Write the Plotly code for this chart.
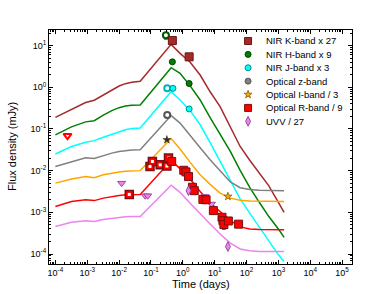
import plotly.graph_objects as go

# ---------------- model curves ----------------
model_t = [1.0e-4, 3.2e-4, 8.9e-4, 1.66e-3, 3.2e-3, 5.9e-3, 1.0e-2, 1.58e-2, 2.5e-2, 4.6e-2,
           0.43, 0.82, 1.7, 3.5, 7.2, 14.8, 31, 63, 126, 251, 501, 1000, 1510]

model_K = [0.19, 0.30, 0.43, 0.49, 0.65, 0.86, 1.07, 1.22, 1.32, 1.40,
           10.7, 6.5, 4.0, 1.97, 0.78, 0.343, 0.113, 0.038, 0.0178, 0.0089, 0.0043, 0.00174, 0.0010]
model_H = [0.072, 0.112, 0.148, 0.158, 0.214, 0.275, 0.324, 0.355, 0.372, 0.376,
           2.95, 2.17, 1.08, 0.495, 0.188, 0.0724, 0.0288, 0.0102, 0.00398, 0.00174, 0.00079, 0.000398, 0.000251]
model_J = [0.0251, 0.038, 0.0479, 0.0525, 0.0631, 0.0741, 0.0871, 0.0955, 0.102, 0.105,
           0.785, 0.495, 0.275, 0.126, 0.0468, 0.0166, 0.00575, 0.00209, 0.000955, 0.000437, 0.0002, 0.0000955, 0.0000661]
model_z = [0.0126, 0.0166, 0.0204, 0.0195, 0.0229, 0.0263, 0.0288, 0.0302, 0.0313, 0.0316,
           0.209, 0.138, 0.0676, 0.0355, 0.0182, 0.0100, 0.00537, 0.00389, 0.00351, 0.00339, 0.00335, 0.00331, 0.00331]
model_I = [0.00501, 0.00631, 0.00724, 0.00676, 0.00794, 0.00871, 0.00933, 0.00966, 0.00989, 0.0100,
           0.0589, 0.0331, 0.0158, 0.00794, 0.00468, 0.00288, 0.00219, 0.00195, 0.00186, 0.00184, 0.00182, 0.00182, 0.00182]
model_R = [0.00138, 0.00182, 0.00200, 0.00191, 0.00219, 0.00240, 0.00254, 0.00263, 0.00266, 0.00269,
           0.0174, 0.0112, 0.00631, 0.00316, 0.0017, 0.00105, 0.00063, 0.000447, 0.000398, 0.000385, 0.00038, 0.00038, 0.00038]
model_UVV = [0.000457, 0.000575, 0.000631, 0.000603, 0.000676, 0.000724, 0.000759, 0.000785, 0.000794, 0.000794,
             0.00447, 0.00302, 0.00166, 0.000912, 0.000525, 0.000302, 0.000182, 0.000132, 0.000119, 0.000115, 0.000115, 0.000115, 0.000115]

K_t = [0.47, 1.58]
K_f = [13.2, 5.37]

H_t = [0.47, 1.58]
H_f = [4.07, 1.23]
H_ring_t = [0.295]
H_ring_f = [17.8]

J_t = [0.49, 1.58]
J_f = [0.944, 0.302]
J_ring_t = [0.324]
J_ring_f = [0.944]

z_ring_t = [0.324]
z_ring_f = [0.216]

I_dark_t = [0.316]
I_dark_f = [0.055]
I_t = [26.0]
I_f = [0.0024]

R_t = [0.447, 1.07, 1.26, 1.51, 2.0, 2.29, 4.27, 5.37, 9.1, 17.0, 18.2, 19.5, 26.9, 56.2]
R_f = [0.0166, 0.0102, 0.0093, 0.0072, 0.0040, 0.0033, 0.00204, 0.0020, 0.0011, 0.00076,
       0.00063, 0.00051, 0.00062, 0.00052]
R_early_t = [0.0209, 0.0933, 0.111, 0.195, 0.316, 0.355]
R_early_f = [0.00269, 0.0126, 0.0166, 0.0138, 0.0129, 0.020]
R_lim_t = [0.00024]
R_lim_f = [0.069]

UVV_t = [1.51, 26.0]
UVV_f = [0.0033, 0.000151]
UVV_lim_t = [0.012, 0.066, 0.079, 5.0, 7.9]
UVV_lim_f = [0.0050, 0.0025, 0.0025, 0.0024, 0.00158]

labels = ["NIR K-band x 27", "NIR H-band x 9", "NIR J-band x 3", "Optical z-band",
          "Optical I-band / 3", "Optical R-band / 9", "UVV / 27"]

x_exps = [-4, -3, -2, -1, 0, 1, 2, 3, 4, 5]
y_exps = [-4, -3, -2, -1, 0, 1]

FONT = "Arial, Liberation Sans, sans-serif"
C_K, C_H, C_J, C_z, C_I, C_R, C_U = "#A52A2A", "#008000", "#00FFFF", "#808080", "#FFA500", "#FF0000", "#EE82EE"

fig = go.Figure()

# model lines
for ys, c in [(model_K, C_K), (model_H, C_H), (model_J, C_J), (model_z, C_z),
              (model_I, C_I), (model_R, C_R), (model_UVV, C_U)]:
    fig.add_trace(go.Scatter(x=model_t, y=ys, mode="lines", line=dict(color=c, width=1.5),
                             showlegend=False, hoverinfo="skip"))

def pts(x, y, **kw):
    fig.add_trace(go.Scatter(x=x, y=y, mode="markers", showlegend=False, **kw))

# upper limits
pts(R_lim_t, R_lim_f, marker=dict(symbol="triangle-down", size=7, color="white",
                                  line=dict(color=C_R, width=2)))
pts(UVV_lim_t, UVV_lim_f, marker=dict(symbol="triangle-down", size=7, color=C_U,
                                      line=dict(color="#9a4a9a", width=1)))

# rings
pts(H_ring_t, H_ring_f, marker=dict(symbol="circle", size=6, color="white", line=dict(color="#005a00", width=2)),
    error_y=dict(type="data", array=[0], arrayminus=[3.5], color="#005a00", width=2, thickness=1))
pts(J_ring_t, J_ring_f, marker=dict(symbol="circle", size=6, color="white", line=dict(color="#00b5b5", width=2)))
pts(z_ring_t, z_ring_f, marker=dict(symbol="circle", size=6, color="white", line=dict(color="#555555", width=2)))
pts(I_dark_t, I_dark_f, marker=dict(symbol="star", size=6, color="#3a2a10", line=dict(color="#3a2a10", width=0.5)))

# R early squares with white centres
pts(R_early_t, R_early_f, marker=dict(symbol="square", size=8, color=C_R, line=dict(color="#7a1010", width=1.5)))
pts(R_early_t, R_early_f, marker=dict(symbol="square", size=3, color="white", line=dict(width=0)))

# detections
pts(K_t, K_f, marker=dict(symbol="square", size=8, color=C_K, line=dict(color="#6a1515", width=1)))
pts(H_t, H_f, marker=dict(symbol="circle", size=6, color=C_H, line=dict(color="#004000", width=1)))
pts(J_t, J_f, marker=dict(symbol="circle", size=6, color=C_J, line=dict(color="#008b8b", width=1)))
pts(I_t, I_f, marker=dict(symbol="star", size=6, color=C_I, line=dict(color="#8a5a00", width=0.8)))
pts(R_t, R_f, marker=dict(symbol="square", size=8, color=C_R, line=dict(color="#7a1010", width=1)),
    error_y=dict(type="data", array=[0] * 11 + [0.00008] + [0, 0], arrayminus=[0] * 11 + [0.00012] + [0, 0],
                 color=C_R, width=2, thickness=1))
pts(UVV_t, UVV_f, marker=dict(symbol="diamond-tall", size=7, color=C_U, line=dict(color="#9a4a9a", width=1)))

# ---------------- hand-made legend (overlay axes in plot-fraction units) ----------------
leg_markers = [
    dict(symbol="square", size=7, color=C_K, line=dict(color="#6a1515", width=1)),
    dict(symbol="circle", size=6, color=C_H, line=dict(color="#004000", width=1)),
    dict(symbol="circle", size=6, color=C_J, line=dict(color="#008b8b", width=1)),
    dict(symbol="circle", size=6, color=C_z, line=dict(color="#555555", width=1)),
    dict(symbol="star", size=6, color=C_I, line=dict(color="#8a5a00", width=0.8)),
    dict(symbol="square", size=7, color=C_R, line=dict(color="#7a1010", width=1)),
    dict(symbol="diamond-tall", size=7, color=C_U, line=dict(color="#9a4a9a", width=1)),
]
leg_x_marker = 0.657
leg_x_text = 0.71
leg_y0 = 0.953
leg_dy = 0.0572
for i, (lab, mk) in enumerate(zip(labels, leg_markers)):
    yy = leg_y0 - i * leg_dy
    fig.add_trace(go.Scatter(x=[leg_x_marker], y=[yy], mode="markers", marker=mk,
                             xaxis="x2", yaxis="y2", showlegend=False, hoverinfo="skip"))
    fig.add_annotation(x=leg_x_text, y=yy, xref="paper", yref="paper", text=lab, showarrow=False,
                       xanchor="left", yanchor="middle", font=dict(size=9.5, family=FONT, color="black"))

# axis titles as annotations for exact placement
fig.add_annotation(x=0.5, y=-0.085, xref="paper", yref="paper", text="Time (days)", showarrow=False,
                   xanchor="center", yanchor="middle", font=dict(size=11, family=FONT, color="black"))
fig.add_annotation(x=-0.122, y=0.5, xref="paper", yref="paper", text="Flux density (mJy)", showarrow=False,
                   textangle=-90, xanchor="center", yanchor="middle",
                   font=dict(size=11, family=FONT, color="black"))

def pow_labels(exps):
    return [10.0 ** e for e in exps], ["10<sup>%d</sup>" % e for e in exps]

xtv, xtt = pow_labels(x_exps)
ytv, ytt = pow_labels(y_exps)
minor_vals = [m * 10.0 ** e for e in range(-5, 7) for m in range(2, 10)]

axis_common = dict(type="log", showgrid=False, zeroline=False, automargin=False,
                   showline=True, linecolor="black", linewidth=1, mirror="allticks",
                   ticks="inside", ticklen=4, tickcolor="black",
                   minor=dict(tickmode="array", tickvals=minor_vals, ticks="inside", ticklen=2,
                              tickcolor="black", showgrid=False),
                   tickfont=dict(size=9, color="black", family=FONT))

fig.update_layout(
    width=390, height=294,
    margin=dict(l=49, r=38, t=30, b=30),
    paper_bgcolor="white", plot_bgcolor="white",
    font=dict(family=FONT, color="black", size=10),
    showlegend=False,
    hovermode=False,
    xaxis=dict(range=[-4.2, 5.31], tickmode="array", tickvals=xtv, ticktext=xtt, **axis_common),
    yaxis=dict(range=[-4.24, 1.374], tickmode="array", tickvals=ytv, ticktext=ytt, **axis_common),
    xaxis2=dict(overlaying="x", range=[0, 1], visible=False, anchor="y2", automargin=False),
    yaxis2=dict(overlaying="y", range=[0, 1], visible=False, anchor="x2", automargin=False),
)

fig.write_html("out.html", config={"displayModeBar": False},
               post_script="document.body.style.margin='0px';")
